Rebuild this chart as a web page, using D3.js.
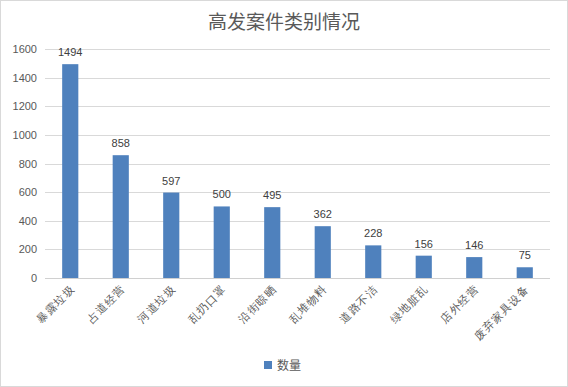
<!DOCTYPE html>
<html>
<head>
<meta charset="utf-8">
<script src="https://cdn.jsdelivr.net/npm/d3@7"></script>
<style>
  body { margin: 0; background: #fff; }
  svg { display: block; font-family: "Noto Sans CJK SC", "Liberation Sans", sans-serif; }
</style>
</head>
<body>
<div id="chart"></div>
<script>
var categories = ["暴露垃圾", "占道经营", "河道垃圾", "乱扔口罩", "沿街晾晒", "乱堆物料", "道路不洁", "绿地脏乱", "店外经营", "废弃家具设备"];
var counts = [1494, 858, 597, 500, 495, 362, 228, 156, 146, 75];
var yTicks = [0, 200, 400, 600, 800, 1000, 1200, 1400, 1600];

var W = 568, H = 387;
var m = {left: 45, right: 18, top: 49, bottom: 109};

var svg = d3.select("#chart").append("svg")
  .attr("width", W).attr("height", H);

svg.append("rect")
  .attr("x", 0.5).attr("y", 0.5)
  .attr("width", W - 1).attr("height", H - 1)
  .attr("fill", "#fff").attr("stroke", "#d9d9d9");

var x = d3.scaleBand().domain(categories)
  .range([m.left, W - m.right]).paddingInner(0.68).paddingOuter(0.34);
var y = d3.scaleLinear().domain([0, 1600]).range([H - m.bottom, m.top]);

svg.append("text")
  .attr("x", W / 2).attr("y", 29)
  .attr("text-anchor", "middle")
  .attr("font-size", 19).attr("fill", "#595959")
  .text("高发案件类别情况");

// grid
svg.append("g").selectAll("line").data(yTicks).enter().append("line")
  .attr("x1", m.left).attr("x2", W - m.right)
  .attr("y1", function(d) { return Math.round(y(d)) + 0.5; })
  .attr("y2", function(d) { return Math.round(y(d)) + 0.5; })
  .attr("stroke", function(d) { return d === 0 ? "#d0d0d0" : "#d9d9d9"; });

var yAxis = svg.append("g")
  .attr("transform", "translate(" + m.left + ",0)")
  .call(d3.axisLeft(y).tickValues(yTicks).tickFormat(d3.format("d")).tickSize(0).tickPadding(8));
yAxis.select(".domain").remove();
yAxis.selectAll("text").attr("font-size", 11).attr("fill", "#595959")
  .attr("font-family", "Liberation Sans, sans-serif");

svg.append("g").selectAll("rect").data(counts).enter().append("rect")
  .attr("x", function(d, i) { return x(categories[i]); })
  .attr("width", x.bandwidth())
  .attr("y", function(d) { return y(d); })
  .attr("height", function(d) { return y(0) - y(d); })
  .attr("fill", "#4f81bd");

svg.append("g").selectAll("text").data(counts).enter().append("text")
  .attr("x", function(d, i) { return x(categories[i]) + x.bandwidth() / 2; })
  .attr("y", function(d) { return y(d) - 8; })
  .attr("text-anchor", "middle")
  .attr("font-size", 11).attr("fill", "#404040")
  .attr("font-family", "Liberation Sans, sans-serif")
  .text(function(d) { return d; });

var xAxis = svg.append("g")
  .attr("transform", "translate(0," + y(0) + ")")
  .call(d3.axisBottom(x).tickSize(0).tickPadding(0));
xAxis.select(".domain").remove();
xAxis.selectAll("text")
  .attr("font-size", 11).attr("fill", "#595959")
  .attr("letter-spacing", 1)
  .attr("text-anchor", "end")
  .attr("dy", null).attr("y", 0)
  .attr("transform", "translate(5,12) rotate(-45)");

var lg = svg.append("g").attr("transform", "translate(264,361)");
lg.append("rect").attr("width", 8).attr("height", 8).attr("fill", "#4f81bd");
lg.append("text").attr("x", 13).attr("y", 8.5)
  .attr("font-size", 12).attr("fill", "#595959").text("数量");
</script>
</body>
</html>
